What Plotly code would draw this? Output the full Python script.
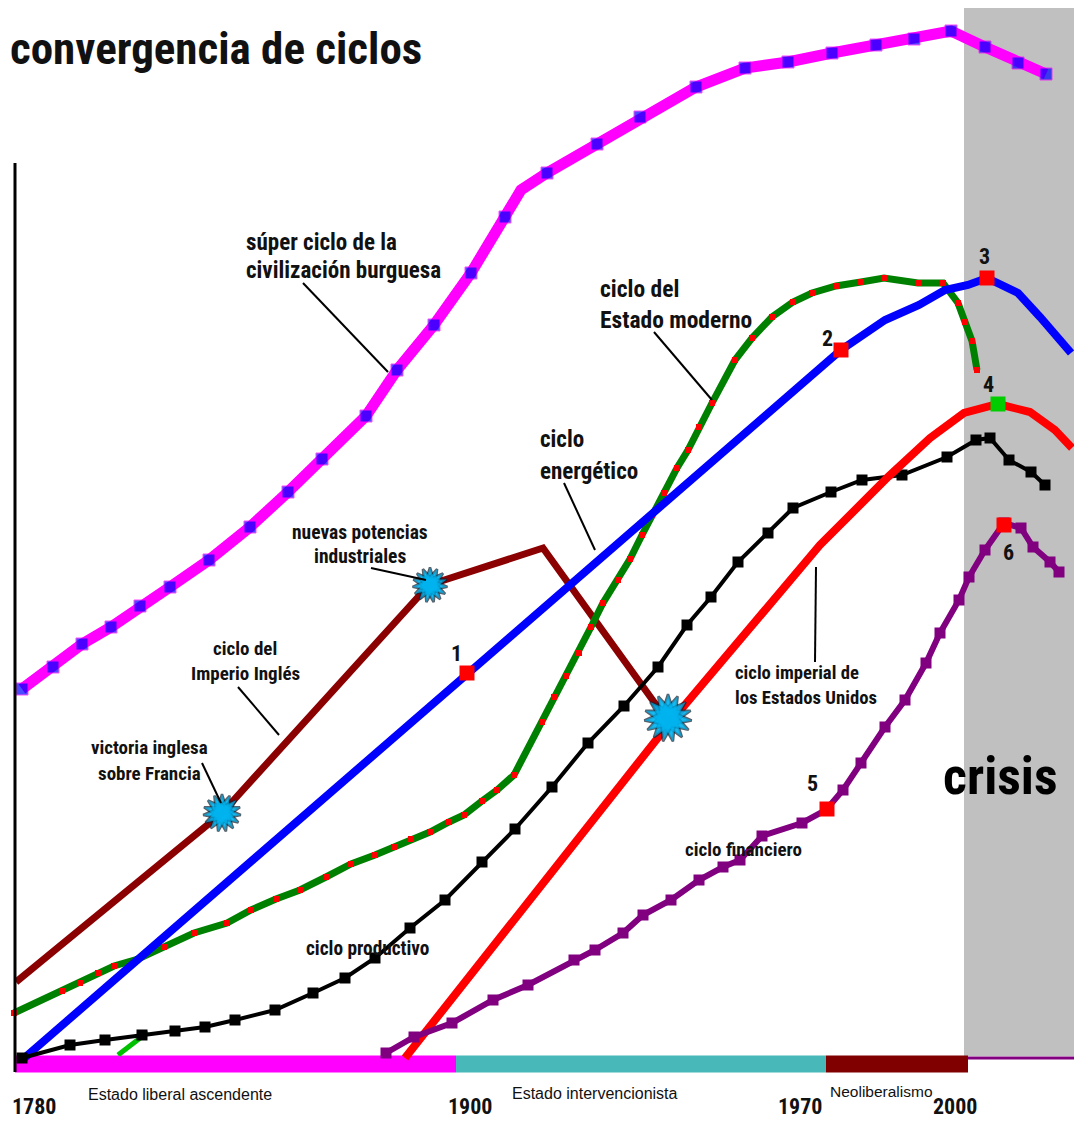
import plotly.graph_objects as go

# horizontal position of each point along the time axis (chart units), vertical level (screen rows, axis reversed)

# super ciclo de la civilizacion burguesa
burguesa_x = [22, 53, 82, 111, 140, 170, 209, 250, 288, 322, 366, 397, 434, 471, 505, 521, 547, 597, 640, 696, 745, 788, 832, 876, 914, 951, 985, 1018, 1046]
burguesa_y = [689, 667, 644, 627, 606, 587, 560, 527, 492, 459, 416, 370, 325, 273, 217, 190, 173, 144, 117, 87, 68, 62, 53, 45, 39, 31, 47, 63, 74]

# ciclo energetico
energia_x = [22, 467, 841, 885, 919, 945, 968, 987, 1018, 1040, 1071]
energia_y = [1060, 673, 350, 320, 305, 290, 285, 278, 293, 317, 353]

# ciclo del Estado moderno
estado_x = [14, 62, 80, 98, 114, 138, 164, 194, 227, 251, 276, 300, 326, 351, 375, 394, 411, 430, 449, 464, 482, 497, 514,
            542, 554, 566, 579, 591, 603, 618, 630, 642, 652, 664, 677, 688, 699, 712, 735, 752, 772, 793, 812, 836, 861, 884,
            918, 943, 958, 965, 972, 977]
estado_y = [1013, 991, 983, 973, 966, 959, 947, 933, 923, 910, 899, 890, 877, 864, 855, 847, 839, 832, 822, 815, 801, 790, 775,
            722, 697, 676, 653, 627, 603, 580, 559, 535, 515, 493, 468, 450, 427, 403, 360, 338, 317, 302, 293, 286, 282, 278,
            283, 283, 303, 322, 341, 370]
# trazo suelto verde claro cerca del origen
trazo_x = [118, 148]
trazo_y = [1055, 1032]

# ciclo del Imperio Ingles
ingles_x = [16, 222, 429, 543, 667]
ingles_y = [982, 813, 585, 548, 720]

# ciclo productivo
productivo_x = [22, 70, 105, 142, 175, 205, 235, 275, 313, 345, 375, 410, 445, 482, 515, 552, 588, 624, 658, 687, 711, 738, 768,
                793, 831, 862, 902, 947, 976, 990, 1009, 1031, 1045]
productivo_y = [1058, 1045, 1040, 1035, 1031, 1027, 1020, 1010, 993, 978, 958, 928, 900, 862, 829, 787, 743, 706, 667, 625, 597,
                562, 533, 508, 492, 480, 475, 457, 440, 438, 460, 472, 485]

# ciclo imperial de los Estados Unidos
eeuu_x = [405, 668, 820, 888, 930, 964, 998, 1030, 1055, 1072]
eeuu_y = [1058, 725, 545, 477, 438, 413, 404, 412, 430, 448]

# ciclo financiero
financiero_x = [386, 414, 452, 493, 528, 574, 595, 623, 643, 671, 699, 723, 740, 762, 802, 826, 843, 861, 885, 905, 926, 940, 959,
                969, 985, 1004, 1021, 1033, 1050, 1059]
financiero_y = [1053, 1037, 1023, 1000, 985, 960, 950, 933, 915, 900, 880, 867, 860, 836, 823, 810, 790, 763, 727, 700, 663, 633,
                600, 577, 550, 523, 528, 547, 562, 572]

# hitos numerados
hitos = ["1", "2", "3", "4", "5", "6"]
hitos_x = [467, 841, 987, 998, 827, 1004]
hitos_y = [673, 350, 278, 404, 809, 525]
hitos_color = ["#ff0000", "#ff0000", "#ff0000", "#00cc00", "#ff0000", "#ff0000"]

# eventos (estallidos)
eventos_x = [222, 430, 668]
eventos_y = [813, 585, 718]
eventos_size = [27, 25, 34]

# etapas del Estado
etapas = ["Estado liberal ascendente", "Estado intervencionista", "Neoliberalismo"]
etapas_inicio = [15, 456, 826]
etapas_fin = [456, 826, 968]
etapas_color = ["#ff00ff", "#48b8b8", "#800000"]

anios = ["1780", "1900", "1970", "2000"]
anios_x = [34, 470, 800, 955]

crisis_inicio = 964

FONT = "Roboto Condensed, Liberation Sans, sans-serif"
FONT_ETAPA = "Liberation Sans, Arial, sans-serif"

fig = go.Figure()

fig.add_shape(type="rect", x0=crisis_inicio, x1=1082, y0=5, y1=1056, fillcolor="#c0c0c0", line_width=0, layer="below")
fig.add_shape(type="line", x0=15, x1=15, y0=163, y1=1072, line=dict(color="black", width=3))

# etapas
for name, a, b, c in zip(etapas, etapas_inicio, etapas_fin, etapas_color):
    fig.add_trace(go.Scatter(x=[a, b], y=[1064, 1064], mode="lines", line=dict(color=c, width=17), name=name))
fig.add_trace(go.Scatter(x=[968, 1075], y=[1058, 1058], mode="lines", line=dict(color="#800080", width=3)))

fig.add_trace(go.Scatter(
    x=burguesa_x, y=burguesa_y, mode="lines+markers",
    line=dict(color="#ff00ff", width=11),
    marker=dict(symbol="square", color="#0000ff", size=[12] * 15 + [0] + [12] * 13),
    name="super ciclo"
))
fig.add_trace(go.Scatter(
    x=ingles_x, y=ingles_y, mode="lines",
    line=dict(color="#8b0000", width=7), name="imperio ingles"
))
fig.add_trace(go.Scatter(
    x=trazo_x, y=trazo_y, mode="lines",
    line=dict(color="#00c000", width=5), name="trazo"
))
fig.add_trace(go.Scatter(
    x=estado_x, y=estado_y, mode="lines+markers",
    line=dict(color="#008000", width=7),
    marker=dict(symbol="square", color="#ff0000", size=6),
    name="estado moderno"
))
fig.add_trace(go.Scatter(
    x=energia_x, y=energia_y, mode="lines",
    line=dict(color="#0000ff", width=8), name="energetico"
))
fig.add_trace(go.Scatter(
    x=productivo_x, y=productivo_y, mode="lines+markers",
    line=dict(color="#000000", width=4),
    marker=dict(symbol="square", color="#000000", size=11),
    name="productivo"
))
fig.add_trace(go.Scatter(
    x=eeuu_x, y=eeuu_y, mode="lines",
    line=dict(color="#ff0000", width=8), name="eeuu"
))
fig.add_trace(go.Scatter(
    x=financiero_x, y=financiero_y, mode="lines+markers",
    line=dict(color="#800080", width=6),
    marker=dict(symbol="square", color="#800080", size=11),
    name="financiero"
))
fig.add_trace(go.Scatter(
    x=hitos_x, y=hitos_y, mode="markers",
    marker=dict(symbol="square", color=hitos_color, size=15), name="hitos"
))
# estallido: three rotated stars, outlines first and fills on top
for outline in [True, False]:
    for ang in [0, 24, 48]:
        fig.add_trace(go.Scatter(
            x=eventos_x, y=eventos_y, mode="markers",
            marker=dict(symbol="star", color="#00b4f0", size=eventos_size, angle=ang,
                        line=dict(color="#102030", width=2.5 if outline else 0)),
            name="eventos"
        ))

ann = []


def txt(x, y, s, size=19, bold=True, anchor="left", color="#111111", family=FONT, yanchor="middle"):
    ann.append(dict(x=x, y=y, text=s, showarrow=False, xanchor=anchor, yanchor=yanchor,
                    font=dict(family=family, size=size, color=color, weight="bold" if bold else "normal")))


txt(8, 48, "convergencia de ciclos", size=45)
txt(244, 242, "súper ciclo de la", size=23)
txt(244, 270, "civilización burguesa", size=23)
txt(598, 289, "ciclo del", size=23.5)
txt(598, 320, "Estado moderno", size=23.5)
txt(538, 439, "ciclo", size=23)
txt(538, 471, "energético", size=23)
txt(360, 532, "nuevas potencias", size=19.5, anchor="center")
txt(360, 556, "industriales", size=19.5, anchor="center")
txt(245, 648, "ciclo del", size=19, anchor="center")
txt(245, 673, "Imperio Inglés", size=19, anchor="center")
txt(149, 747, "victoria inglesa", size=19, anchor="center")
txt(149, 773, "sobre Francia", size=19, anchor="center")
txt(733, 673, "ciclo imperial de", size=18.7)
txt(733, 698, "los Estados Unidos", size=18.7)
txt(304, 948, "ciclo productivo", size=19.3)
txt(683, 849, "ciclo financiero", size=19)
txt(1000, 776, "crisis", size=52, anchor="center", color="#000000")
for s, x, y in zip(hitos, [456, 827, 984, 988, 812, 1008], [653, 338, 256, 384, 783, 552]):
    txt(x, y, s, size=22, anchor="center")
for s, x, y, sz in zip(etapas, [86, 510, 828], [1094, 1093, 1091], [16, 16, 15.5]):
    txt(x, y, s, size=sz, bold=False, family=FONT_ETAPA)
for s, x in zip(anios, anios_x):
    txt(x, 1121, s, size=22, anchor="center", yanchor="bottom")

# lineas indicadoras
pointers = [
    (303, 283, 388, 372),
    (654, 332, 712, 400),
    (564, 483, 595, 550),
    (371, 568, 426, 580),
    (238, 687, 279, 735),
    (202, 763, 221, 803),
    (816, 567, 815, 662),
]
for x0, y0, x1, y1 in pointers:
    fig.add_shape(type="line", x0=x0, y0=y0, x1=x1, y1=y1, line=dict(color="black", width=2))

# the page body has an 8px margin, so the figure is 8px smaller and the ranges start at 8
fig.update_layout(
    width=1074, height=1114,
    margin=dict(l=0, r=0, t=0, b=0),
    paper_bgcolor="white", plot_bgcolor="white",
    showlegend=False,
    annotations=ann,
    xaxis=dict(range=[8, 1082], visible=False, fixedrange=True),
    yaxis=dict(range=[1122, 8], visible=False, fixedrange=True),
)

fig.write_html("out.html")
